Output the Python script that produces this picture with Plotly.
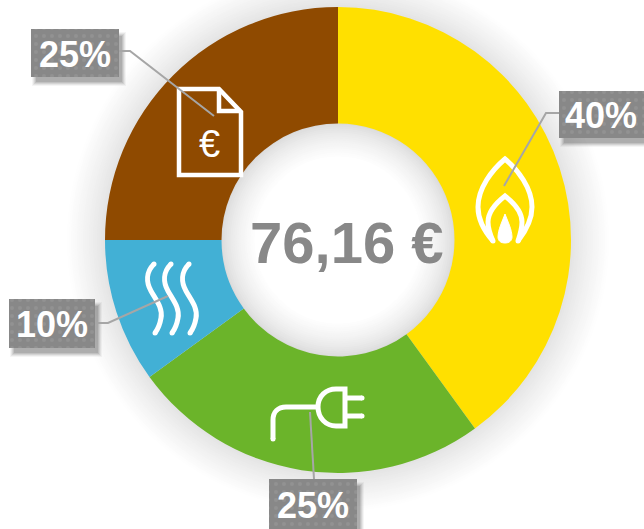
import plotly.graph_objects as go

categories = ["Gas", "Electricity", "Heating", "Taxes"]
values = [40, 25, 10, 25]
percent_labels = ["40%", "25%", "10%", "25%"]
colors = ["#FFE000", "#6BB42A", "#42B0D5", "#8F4A00"]
total_label = "76,16 €"

W, H = 644, 529
CX, CY, R_OUT, R_IN = 338, 240, 233, 116.5
GREY = "#888888"
LEAD = "#A6A6A6"

fig = go.Figure()
shapes = []
annotations = []


def grey(v):
    v = int(round(min(255, v)))
    return f"rgb({v},{v},{v})"


def disc(r, col):
    shapes.append(dict(type="circle", xref="x", yref="y", x0=CX - r, x1=CX + r, y0=CY - r, y1=CY + r,
                       fillcolor=col, line=dict(width=0), layer="below"))


# soft glow behind the ring and inside the hole
for d in range(40, -1, -2):
    disc(R_OUT + d, grey(226 + 29 * (d / 40) ** 0.85))
for d in range(0, 36, 2):
    disc(R_IN + 1 - d, grey(218 + 37 * (d / 34) ** 0.7))

# ring
fig.add_trace(go.Pie(
    labels=categories, values=values, hole=0.5, sort=False, direction="clockwise", rotation=0,
    marker=dict(colors=colors, line=dict(width=0)), textinfo="none", hoverinfo="skip", showlegend=False,
    domain=dict(x=[(CX - R_OUT) / W, (CX + R_OUT) / W], y=[1 - (CY + R_OUT) / H, 1 - (CY - R_OUT) / H]),
))

# label boxes: (x0, y0, x1, y1) in pixels, matching percent_labels order
boxes = [(559, 91, 644, 138), (269, 479, 357, 529), (9, 299, 95, 348), (31, 29, 119, 77)]
for (x0, y0, x1, y1), txt in zip(boxes, percent_labels):
    for g, a in ((3, .05), (2, .08), (1, .10), (0, .12), (-1, .14)):
        shapes.append(dict(type="rect", xref="x", yref="y", x0=x0 + 4 - g, x1=x1 + 4 + g, y0=y0 + 6 - g, y1=y1 + 6 + g,
                           fillcolor=f"rgba(60,60,60,{a})", line=dict(width=0), layer="below"))
    fig.add_trace(go.Scatter(
        x=[x0, x1, x1, x0, x0], y=[y0, y0, y1, y1, y0], mode="lines", fill="toself", line=dict(width=0),
        fillcolor=GREY, fillpattern=dict(shape=".", size=8, solidity=0.18, bgcolor=GREY, fgcolor="#9C9C9C"),
        hoverinfo="skip", showlegend=False))
    annotations.append(dict(x=(x0 + x1) / 2 - 0.5, y=(y0 + y1) / 2 + 1, xref="x", yref="y", text=f"<b>{txt}</b>", showarrow=False,
                            font=dict(family="Liberation Sans", size=36, color="white"), xanchor="center", yanchor="middle"))

annotations.append(dict(x=CX + 9, y=CY + 2, xref="x", yref="y", text=f"<b>{total_label}</b>", showarrow=False,
                        font=dict(family="Liberation Sans", size=58, color=GREY), xanchor="center", yanchor="middle"))
annotations.append(dict(x=209, y=144, xref="x", yref="y", text="€", showarrow=False,
                        font=dict(family="Liberation Sans", size=38, color="white"), xanchor="center", yanchor="middle"))


def stroke(path, w=4, col="white", fill=None):
    shapes.append(dict(type="path", xref="x", yref="y", path=path, layer="above",
                       line=dict(color=col, width=w), fillcolor=fill or "rgba(0,0,0,0)"))


def cap(x, y, r=2.5):
    shapes.append(dict(type="circle", xref="x", yref="y", x0=x - r, x1=x + r, y0=y - r, y1=y + r,
                       fillcolor="white", line=dict(width=0), layer="above"))


# document
stroke("M179,89 L219,89 L241,112 L241,175 L179,175 Z", 4.5)
stroke("M219,89 L219,111 L241,111", 4.5)
# flame
stroke("M493,241 C485,232 478,221 478,207 C478,188 492,170 505,159 C518,170 532,188 532,207 C532,221 525,232 518,241", 5)
stroke("M493,241 C489,232 488,228 488,222 C488,212 496,203 505,196 C514,203 522,212 522,222 C522,228 521,232 518,241", 5)
stroke("M505,214 C508,222 512,230 512,237 C512,241 509,243 505,243 C501,243 498,241 498,237 C498,230 502,222 505,214 Z", 1, fill="white")
cap(493, 241)
cap(518, 241)
# heat waves
for dx in (0, 17, 35):
    stroke(f"M{154+dx},264 C{146+dx},272 {146+dx},282 {151+dx},291 C{156+dx},300 {163+dx},308 {161+dx},318 C{160+dx},324 {158+dx},329 {155+dx},333", 5)
    cap(154 + dx, 264)
    cap(155 + dx, 333)
# plug
stroke("M273,439 L273,420 C273,412 278,407 286,407 L318,407", 5)
stroke("M345,389 L345,426 L336,426 C326,426 318,418 318,407 C318,396 326,389 336,389 Z", 5)
stroke("M345,398 L362,398", 5)
stroke("M345,416 L362,416", 5)
cap(273, 439)
cap(362, 398)
cap(362, 416)
# leader lines
stroke("M119,51 L130,51 L214,116", 2, LEAD)
stroke("M559,113 L546,113 L504,186", 2, LEAD)
stroke("M96,323 L108,323 L168,296", 2, LEAD)
stroke("M310,412 L314,479", 2, LEAD)

fig.update_layout(
    width=W, height=H, margin=dict(l=0, r=0, t=0, b=0), paper_bgcolor="white", plot_bgcolor="rgba(0,0,0,0)",
    xaxis=dict(range=[0, W], visible=False, fixedrange=True),
    yaxis=dict(range=[H, 0], visible=False, fixedrange=True),
    shapes=shapes, annotations=annotations, showlegend=False,
)
fig.write_html("out.html", config=dict(displayModeBar=False),
               post_script="document.body.style.margin='0';document.body.style.overflow='hidden';")
